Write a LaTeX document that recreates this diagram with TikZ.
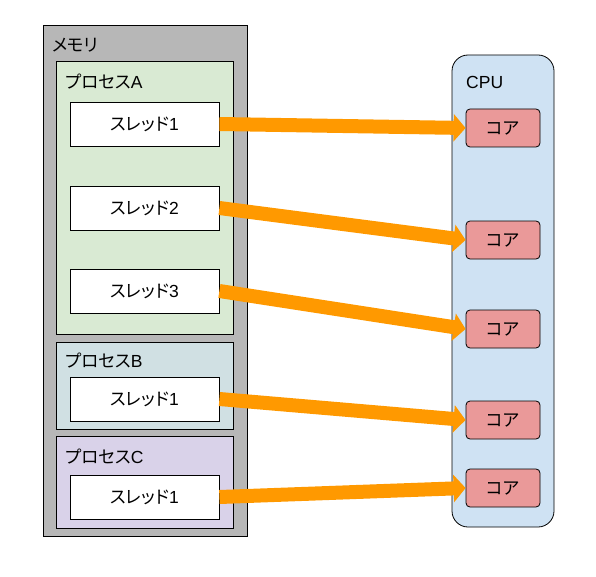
\documentclass[tikz,border=0pt]{standalone}
\usepackage{fontspec}
\setmainfont{Noto Sans CJK JP}[RawFeature={+palt}]
\newfontfamily\lat{Liberation Sans}
\usepackage{xcolor}
\usepackage{tikz}
\usetikzlibrary{arrows.meta, positioning}
\definecolor{memgray}{HTML}{B7B7B7}
\definecolor{procgreen}{HTML}{D9EAD3}
\definecolor{procteal}{HTML}{D0E0E3}
\definecolor{procpurple}{HTML}{D9D2E9}
\definecolor{cpublue}{HTML}{CFE2F3}
\definecolor{corered}{HTML}{EA9999}
\definecolor{linkorange}{HTML}{FF9900}

\begin{document}
\begin{tikzpicture}[
    x=1pt, y=-1pt, font=\fontsize{17.5}{20}\selectfont,
    box/.style={draw=black, line width=0.8pt, inner sep=0pt},
    thread/.style={box, fill=white, minimum width=149pt, minimum height=44pt},
    core/.style={box, rounded corners=4pt, fill=corered, minimum width=74pt,
                 minimum height=38pt},
    title/.style={anchor=west, inner sep=0pt},
    link/.style={draw=linkorange, line width=14pt,
                 -{Triangle[length=12pt, width=27pt]}}
]
    \useasboundingbox (0,0) rectangle (596,577);

    \node[box, fill=memgray, minimum width=204pt, minimum height=511pt] (memory) at (145,280.5) {};
    \node[title] (memlabel) at (52,45) {メモリ};

    \node[box, fill=procgreen, minimum width=177pt, minimum height=273pt] (procA) at (144.5,197.5) {};
    \node[title] (procAlabel) at (65,82) {プロセス{\lat A}};
    \node[thread] (thA1) at (144.5,124) {スレッド{\lat 1}};
    \node[thread] (thA2) at (144.5,208) {スレッド{\lat 2}};
    \node[thread] (thA3) at (144.5,291) {スレッド{\lat 3}};

    \node[box, fill=procteal, minimum width=177pt, minimum height=87pt] (procB) at (144.5,385.5) {};
    \node[title] (procBlabel) at (65,361) {プロセス{\lat B}};
    \node[thread] (thB1) at (144.5,399) {スレッド{\lat 1}};

    \node[box, fill=procpurple, minimum width=177pt, minimum height=92pt] (procC) at (144.5,482) {};
    \node[title] (procClabel) at (65,457) {プロセス{\lat C}};
    \node[thread] (thC1) at (144.5,497) {スレッド{\lat 1}};

    \node[box, rounded corners=16pt, fill=cpublue, minimum width=102pt, minimum height=472pt] (cpu) at (503,291) {};
    \node[title] (cpulabel) at (466,82) {\lat CPU};
    \node[core] (core1) at (503,128) {コア};
    \node[core] (core2) at (503,240) {コア};
    \node[core] (core3) at (503,329) {コア};
    \node[core] (core4) at (503,420) {コア};
    \node[core] (core5) at (503,488) {コア};

    \draw[link] (thA1.east) -- (core1.west);
    \draw[link] (thA2.east) -- (core2.west);
    \draw[link] (thA3.east) -- (core3.west);
    \draw[link] (thB1.east) -- (core4.west);
    \draw[link] (thC1.east) -- (core5.west);
\end{tikzpicture}
\end{document}
